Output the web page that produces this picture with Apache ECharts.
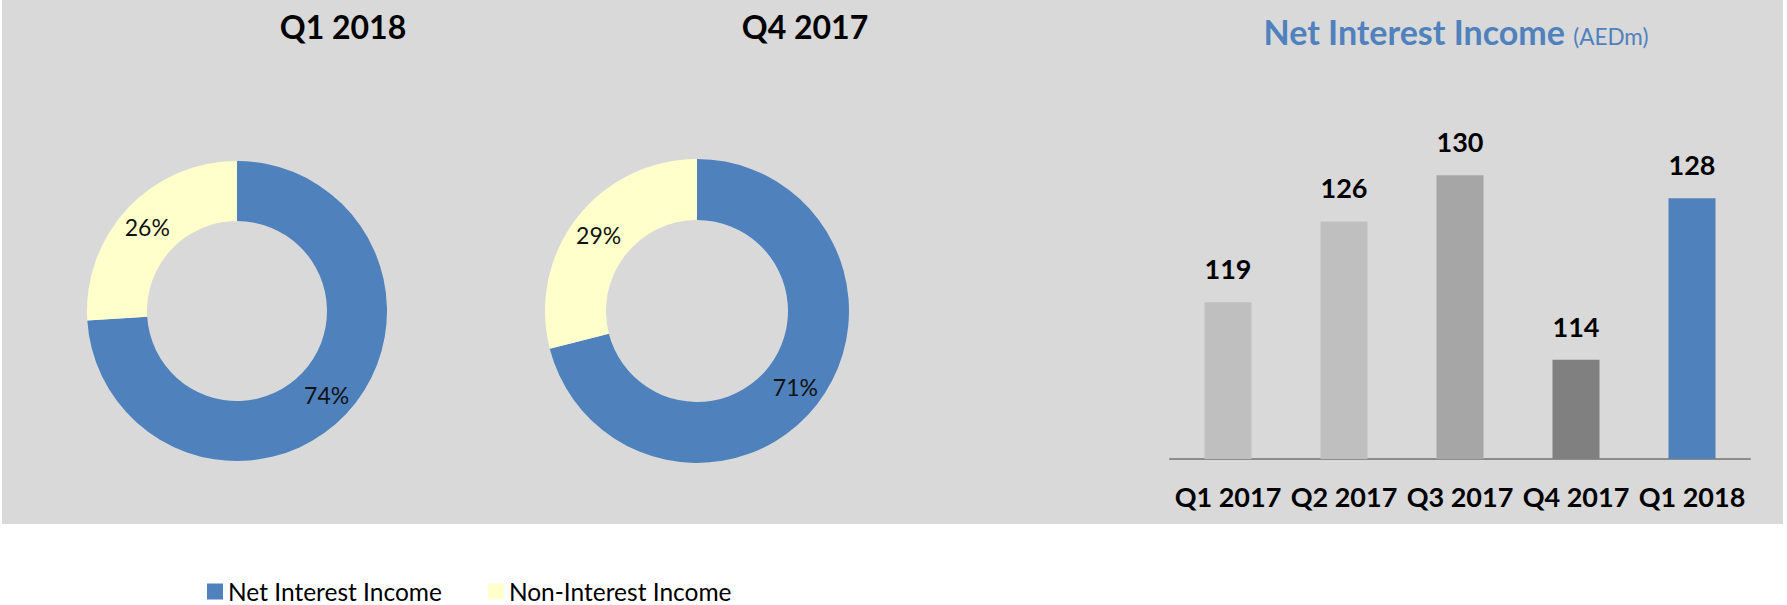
<!DOCTYPE html>
<html><head><meta charset="utf-8">
<script src="https://cdn.jsdelivr.net/npm/echarts@6/dist/echarts.min.js"></script>
<style>html,body{margin:0;padding:0;background:#fff}#c{width:1787px;height:605px}</style>
</head><body><div id="c"></div>
<script>
// ---- data ----
const pieNames = ['Net Interest Income', 'Non-Interest Income'];
const q1_2018Shares = [74, 26];
const q4_2017Shares = [71, 29];
const pieTitles = ['Q1 2018', 'Q4 2017'];
const quarters = ['Q1 2017', 'Q2 2017', 'Q3 2017', 'Q4 2017', 'Q1 2018'];
const netInterestIncome = [119, 126, 130, 114, 128];
const barTitle = 'Net Interest Income';
const barUnit = '(AEDm)';

// ---- styles ----
const barColors = ['#BFBFBF', '#BFBFBF', '#A6A6A6', '#808080', '#4F81BD'];
const pieColors = ['#4F81BD', '#FFFFCC'];
const BLUE = '#4F81BD';
const FONT = 'Lato, "Noto Sans", sans-serif';

function txt(text, x, y, size, weight, color, align) {
  return {
    type: 'text', x: x, y: y, z: 100, silent: true,
    style: {
      text: text, fill: color, fontFamily: FONT, fontSize: size, fontWeight: weight,
      align: align, textAlign: align, verticalAlign: 'middle', textVerticalAlign: 'middle'
    }
  };
}

function pieSeries(shares, center, radius) {
  return {
    type: 'pie', center: center, radius: radius, startAngle: 90, clockwise: true,
    silent: true, avoidLabelOverlap: false, animation: false,
    data: pieNames.map((n, i) => ({ name: n, value: shares[i], itemStyle: { color: pieColors[i] } })),
    itemStyle: { borderWidth: 0 },
    label: { show: true, position: 'inside', formatter: '{c}%', color: '#111', fontFamily: FONT, fontSize: 23, fontWeight: 'normal' },
    labelLine: { show: false },
    emphasis: { disabled: true }
  };
}

const chart = echarts.init(document.getElementById('c'), null, { renderer: 'svg' });
chart.setOption({
  animation: false,
  color: pieColors,
  graphic: [
    { type: 'rect', z: -10, silent: true, shape: { x: 2, y: 0, width: 1781, height: 524 }, style: { fill: '#D9D9D9' } },
    txt(pieTitles[0], 343, 26, 32, 'bold', '#000', 'center'),
    txt(pieTitles[1], 805, 26, 32, 'bold', '#000', 'center'),
    {
      type: 'text', x: 1456, y: 31, z: 100, silent: true,
      style: {
        text: '{a|' + barTitle + ' }{b|' + barUnit + '}',
        align: 'center', textAlign: 'center', verticalAlign: 'middle', textVerticalAlign: 'middle',
        rich: {
          a: { fontFamily: FONT, fontSize: 34, fontWeight: 'bold', fill: BLUE, color: BLUE, lineHeight: 34, verticalAlign: 'bottom' },
          b: { fontFamily: FONT, fontSize: 22.5, fontWeight: 'normal', fill: BLUE, color: BLUE, lineHeight: 23, verticalAlign: 'bottom' }
        }
      }
    }
  ],
  legend: {
    data: pieNames, left: 207, top: 579, padding: 0, icon: 'rect', itemWidth: 16, itemHeight: 16, itemGap: 46,
    selectedMode: false,
    textStyle: { color: '#000', fontFamily: FONT, fontSize: 24.5, lineHeight: 16 }
  },
  grid: { left: 1170, top: 113, width: 580, height: 346, containLabel: false, outerBoundsMode: 'none' },
  xAxis: {
    type: 'category', data: quarters,
    axisLine: { lineStyle: { color: '#8C8C8C', width: 2 } },
    axisTick: { show: false },
    axisLabel: { interval: 0, color: '#000', fontFamily: FONT, fontWeight: 'bold', fontSize: 27, margin: 24 },
    splitLine: { show: false }
  },
  yAxis: { type: 'value', min: 105.4, max: 135.4, show: false, splitLine: { show: false } },
  series: [
    pieSeries(q1_2018Shares, [237, 311], [90, 150]),
    pieSeries(q4_2017Shares, [697, 311], [91, 152]),
    {
      type: 'bar', silent: true, barWidth: 47,
      data: netInterestIncome.map((v, i) => ({ value: v, itemStyle: { color: barColors[i] } })),
      label: { show: true, position: 'top', distance: 20, color: '#000', fontFamily: FONT, fontWeight: 'bold', fontSize: 27 },
      emphasis: { disabled: true }
    }
  ]
});
</script>
</body></html>
